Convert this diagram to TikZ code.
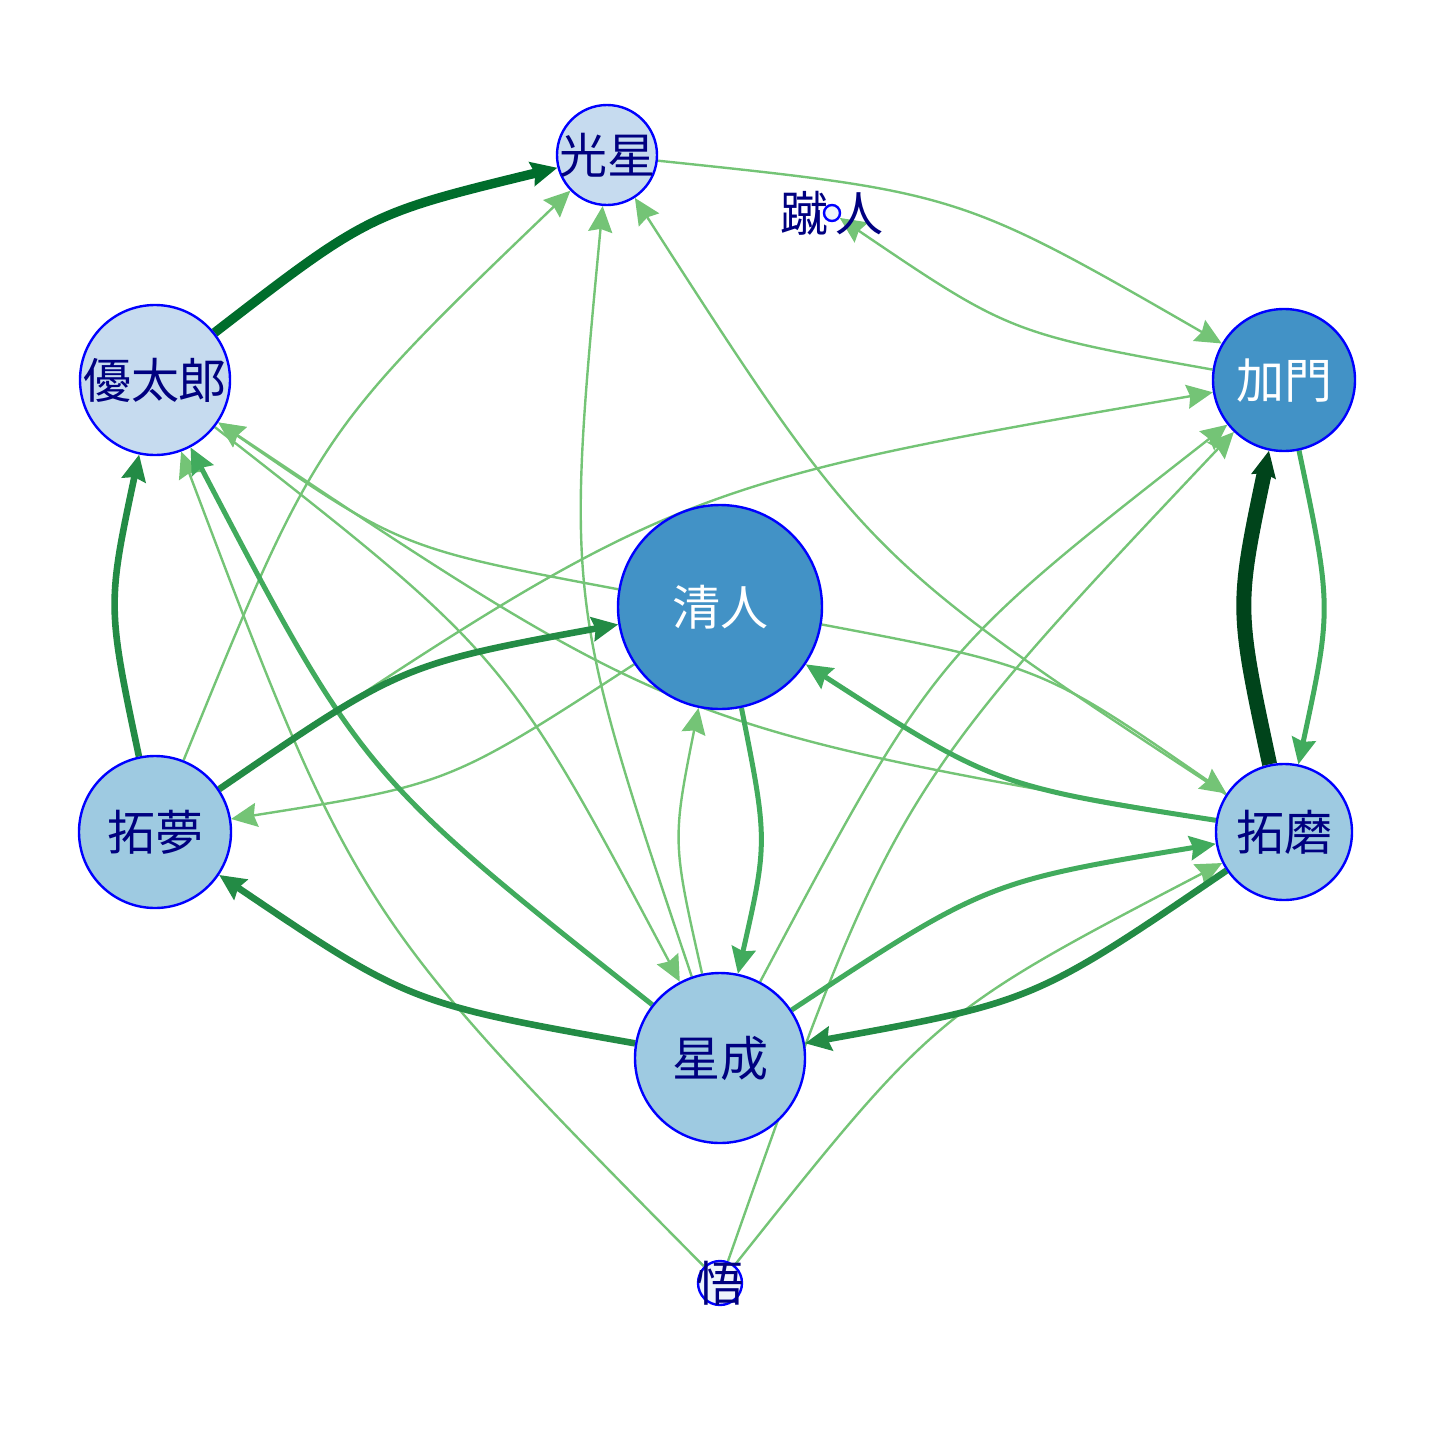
\documentclass[tikz,border=0pt]{standalone}
\usepackage{fontspec}
\newfontfamily\jpfont{Noto Sans CJK JP}
\usepackage{tikz}
\usetikzlibrary{arrows.meta}
\usetikzlibrary{backgrounds}

\definecolor{vpale}{HTML}{C6DBEF}
\definecolor{vwhite}{HTML}{EEF4FB}
\definecolor{vmid}{HTML}{9ECAE1}
\definecolor{vdeep}{HTML}{4292C6}
\definecolor{navytext}{HTML}{000080}
\definecolor{gA}{HTML}{74C476}
\definecolor{gB}{HTML}{41AB5D}
\definecolor{gC}{HTML}{238B45}
\definecolor{gD}{HTML}{006D2C}
\definecolor{gE}{HTML}{00441B}

\newcommand{\lab}[1]{\makebox[0pt]{\raisebox{-0.38em}[0pt][0pt]{#1}}}

\tikzset{
	wa/.style={draw=gA, line width=1.2pt},
	wb/.style={draw=gB, line width=2.5pt},
	wc/.style={draw=gC, line width=3.3pt},
	wd/.style={draw=gD, line width=4.7pt},
	we/.style={draw=gE, line width=7.5pt}
}

\begin{document}
\begin{tikzpicture}[x=0.5pt, y=-0.5pt]
	\useasboundingbox (0,0) rectangle (1440,1440);
	\begin{scope}[every node/.style={circle, draw=blue, line width=1.2pt, inner sep=0pt,
	              text=navytext, font=\jpfont\fontsize{24}{24}\selectfont}]
		\node[fill=vpale, minimum size=50pt] (K) at (607,155) {\lab{光星}};
		\node[fill=vwhite, minimum size=8pt] (S) at (832,213) {\lab{蹴\,人}};
		\node[fill=vdeep, minimum size=71pt, text=white] (Ka) at (1284,380) {\lab{加門}};
		\node[fill=vpale, minimum size=75pt] (Y) at (155,380) {\lab{優太郎}};
		\node[fill=vdeep, minimum size=102pt, text=white] (Ki) at (720,607) {\lab{清人}};
		\node[fill=vmid, minimum size=76pt] (Tm) at (155,832) {\lab{拓夢}};
		\node[fill=vmid, minimum size=68pt] (Ta) at (1284,832) {\lab{拓磨}};
		\node[fill=vmid, minimum size=85pt] (Se) at (720,1058) {\lab{星成}};
		\node[fill=vwhite, minimum size=22pt] (G) at (720,1283) {\lab{悟}};
	\end{scope}

	\begin{scope}[on background layer, >={Stealth[length=13pt, width=12pt, inset=1.5pt]},
	              every edge/.style={draw, ->, bend left=12, looseness=1.3}]
		\foreach \a/\b in {K/Ka, Ka/S, Tm/K, Se/K, Ta/K, Tm/Ka, Se/Ka, G/Ka, G/Y, G/Ta,
		                   Ki/Ta, Ki/Tm, Ki/Y, Ta/Y, Y/Se, Se/Ki}
			{\path (\a) edge[wa] (\b);}
		\foreach \a/\b in {Ka/Ta, Se/Y, Ta/Ki, Se/Ta, Ki/Se}
			{\path (\a) edge[wb] (\b);}
		\foreach \a/\b in {Tm/Y, Tm/Ki, Se/Tm, Ta/Se}
			{\path (\a) edge[wc] (\b);}
		\path (Y) edge[wd] (K);
		\path (Ta) edge[we] (Ka);
	\end{scope}
\end{tikzpicture}
\end{document}
